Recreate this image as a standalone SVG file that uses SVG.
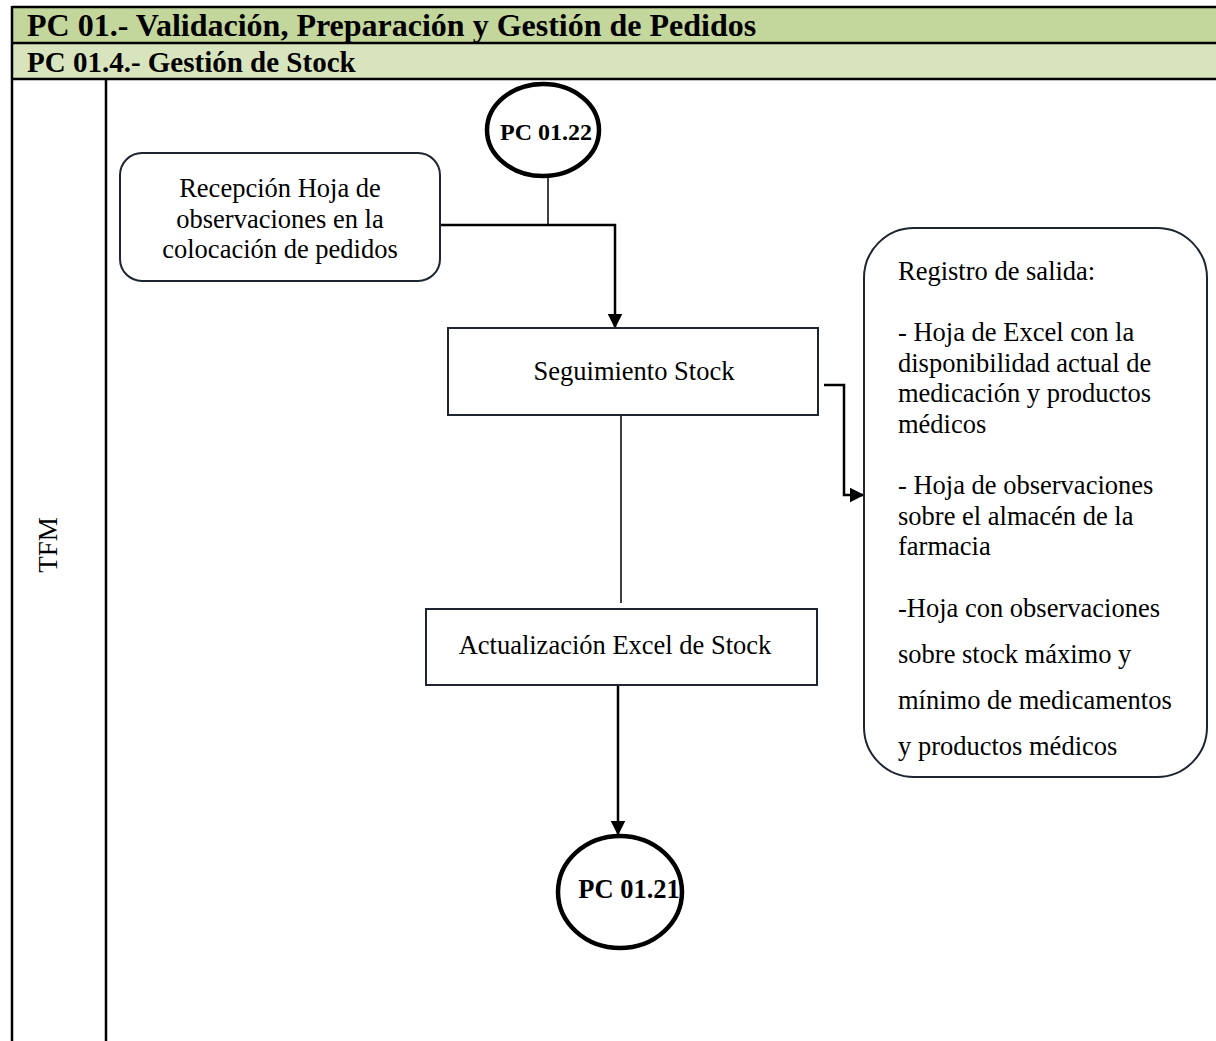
<svg xmlns="http://www.w3.org/2000/svg" width="1216" height="1041" viewBox="0 0 1216 1041">
  <defs>
    <style>
      .t { font-family: "Liberation Serif", "Times New Roman", serif; fill: #000; }
      .hdr { font-weight: bold; }
      .box { fill: #fff; stroke: #1e2530; stroke-width: 2; }
      .term { fill: #fff; stroke: #000; stroke-width: 4.5; }
      .lbl { font-size: 26.5px; }
      .conn { fill: none; stroke: #000; stroke-width: 2.5; }
      .thin { fill: none; stroke: #000; stroke-width: 1.5; }
    </style>
    <marker id="arrow" viewBox="0 0 10 10" refX="9" refY="5" markerWidth="6" markerHeight="6" markerUnits="strokeWidth" orient="auto">
      <path d="M0,0 L10,5 L0,10 Z" fill="#000"/>
    </marker>
  </defs>

  <rect x="0" y="0" width="1216" height="1041" fill="#fff"/>

  <!-- swimlane header and lane borders -->
  <g id="header">
    <rect x="12" y="7" width="1210" height="36" fill="#c3d69c"/>
    <rect x="12" y="43" width="1210" height="36" fill="#d8e4bd"/>
    <line x1="12" y1="7" x2="1216" y2="7" stroke="#000" stroke-width="2.5"/>
    <line x1="12" y1="43" x2="1216" y2="43" stroke="#000" stroke-width="2.5"/>
    <line x1="12" y1="79" x2="1216" y2="79" stroke="#000" stroke-width="2.5"/>
    <line x1="12" y1="6" x2="12" y2="1041" stroke="#000" stroke-width="2.5"/>
    <line x1="106" y1="79" x2="106" y2="1041" stroke="#000" stroke-width="2.5"/>
    <text class="t hdr" x="27" y="36" font-size="32">PC 01.- Validación, Preparación y Gestión de Pedidos</text>
    <text class="t hdr" x="27" y="72" font-size="29">PC 01.4.- Gestión de Stock</text>
    <text class="t" font-size="27" transform="translate(57,545) rotate(-90)" text-anchor="middle">TFM</text>
  </g>

  <!-- connectors -->
  <g id="connectors">
    <line class="thin" x1="548" y1="177" x2="548" y2="226"/>
    <polyline class="conn" points="440,225 615,225 615,327" marker-end="url(#arrow)"/>
    <line class="thin" x1="621" y1="416" x2="621" y2="603"/>
    <line class="conn" x1="618" y1="686" x2="618" y2="834" marker-end="url(#arrow)"/>
    <polyline class="conn" points="824,385 844,385 844,495 863,495" marker-end="url(#arrow)"/>
  </g>

  <g id="start">
    <ellipse class="term" cx="543" cy="130" rx="56" ry="46"/>
    <text class="t hdr" x="546" y="140" font-size="24" text-anchor="middle">PC 01.22</text>
  </g>

  <g id="recepcion">
    <rect class="box" x="120" y="153" width="320" height="128" rx="22"/>
    <text class="t lbl" x="280" y="197" text-anchor="middle">Recepción Hoja de</text>
    <text class="t lbl" x="280" y="228" text-anchor="middle">observaciones en la</text>
    <text class="t lbl" x="280" y="258" text-anchor="middle">colocación de pedidos</text>
  </g>

  <g id="seguimiento">
    <rect class="box" x="448" y="328" width="370" height="87"/>
    <text class="t lbl" x="634" y="380" text-anchor="middle">Seguimiento Stock</text>
  </g>

  <g id="actualizacion">
    <rect class="box" x="426" y="609" width="391" height="76"/>
    <text class="t lbl" x="615" y="654" text-anchor="middle">Actualización Excel de Stock</text>
  </g>

  <g id="end">
    <ellipse class="term" cx="620" cy="892" rx="62" ry="56"/>
    <text class="t hdr" x="629" y="898" font-size="26.5" text-anchor="middle">PC 01.21</text>
  </g>

  <g id="registro">
    <rect class="box" x="864" y="228" width="343" height="549" rx="50"/>
    <text class="t lbl" x="898" y="280">Registro de salida:</text>
    <text class="t lbl" x="898" y="341">- Hoja de Excel con la</text>
    <text class="t lbl" x="898" y="372">disponibilidad actual de</text>
    <text class="t lbl" x="898" y="402">medicación y productos</text>
    <text class="t lbl" x="898" y="433">médicos</text>
    <text class="t lbl" x="898" y="494">- Hoja de observaciones</text>
    <text class="t lbl" x="898" y="525">sobre el almacén de la</text>
    <text class="t lbl" x="898" y="555">farmacia</text>
    <text class="t lbl" x="898" y="617">-Hoja con observaciones</text>
    <text class="t lbl" x="898" y="663">sobre stock máximo y</text>
    <text class="t lbl" x="898" y="709">mínimo de medicamentos</text>
    <text class="t lbl" x="898" y="755">y productos médicos</text>
  </g>
</svg>
